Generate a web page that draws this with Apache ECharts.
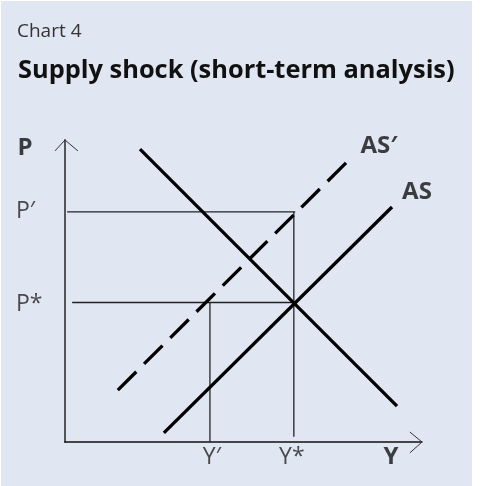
<!DOCTYPE html>
<html>
<head>
<meta charset="utf-8">
<script src="https://cdn.jsdelivr.net/npm/echarts@6/dist/echarts.min.js"></script>
<style>
  html, body { margin: 0; padding: 0; background: #ffffff; }
  #chart { width: 481px; height: 486px; }
</style>
</head>
<body>
<div id="chart"></div>
<script>
// curves in axis units (0..10 on both axes)
const adLine = [[2.10, 9.70], [9.30, 1.19]];
const asLine = [[2.77, 0.30], [9.16, 7.78]];
const asShiftedLine = [[1.48, 1.72], [8.04, 9.44]];
const curveNames = ["AD", "AS", "AS′"];

// equilibrium levels
const priceLevels = [7.62, 4.62];          // P′, P*
const priceNames = ["P′", "P*"];
const outputLevels = [4.06, 6.41];         // Y′, Y*
const outputNames = ["Y′", "Y*"];
const axisNames = ["P", "Y"];

// open arrowheads at the axis ends
const arrowHeads = [
  [[-0.28, 9.64], [0, 10], [0.36, 9.64]],
  [[9.66, 0.33], [10, 0], [9.66, -0.36]]
];

const FONT = "Open Sans";
const chart = echarts.init(document.getElementById("chart"), null, { renderer: "canvas" });

const ink = "#000000";
const guide = { color: "#222222", width: 1.3 };

function labelPoint(value, text, offset, style = {}) {
  return {
    value,
    label: {
      show: true,
      position: "inside",
      offset,
      formatter: text,
      color: "#222222",
      fontFamily: FONT,
      fontSize: 23,
      ...style
    }
  };
}

const bold = { fontWeight: "bold", fontSize: 24, color: "#111111" };

const option = {
  animation: false,
  backgroundColor: "#ffffff",
  graphic: [
    { type: "rect", shape: { x: 1, y: 1, width: 471, height: 485 }, style: { fill: "#e0e6f2" }, z: -10 },
    { type: "text", left: 17, top: 22, style: { text: "Chart 4", fontFamily: FONT, fontSize: 19, fill: "#333333" } },
    { type: "text", left: 18, top: 58, style: { text: "Supply shock (short-term analysis)", fontFamily: FONT, fontSize: 25.4, fontWeight: "bold", fill: "#111111" } }
  ],
  grid: { left: 65, right: 59, top: 140, bottom: 44 },
  xAxis: {
    type: "value", min: 0, max: 10,
    axisLine: { show: true, lineStyle: { color: "#111111", width: 1.5 } },
    axisTick: { show: false }, axisLabel: { show: false }, splitLine: { show: false }
  },
  yAxis: {
    type: "value", min: 0, max: 10,
    axisLine: { show: true, lineStyle: { color: "#555555", width: 2 } },
    axisTick: { show: false }, axisLabel: { show: false }, splitLine: { show: false }
  },
  series: [
    {
      type: "custom", silent: true, clip: false,
      data: arrowHeads.map((_, i) => i),
      renderItem: (params, api) => ({
        type: "polyline",
        shape: { points: arrowHeads[params.dataIndex].map(p => api.coord(p)) },
        style: { stroke: "#333333", lineWidth: 1, fill: null }
      })
    },
    // guide lines
    { type: "line", silent: true, symbol: "none", lineStyle: guide,
      data: [[0.06, priceLevels[0]], [outputLevels[1] + 0.04, priceLevels[0]]] },
    { type: "line", silent: true, symbol: "none", lineStyle: guide,
      data: [[0.2, priceLevels[1]], [outputLevels[1], priceLevels[1]]] },
    { type: "line", silent: true, symbol: "none", lineStyle: guide,
      data: [[outputLevels[1], priceLevels[0]], [outputLevels[1], 0.17]] },
    { type: "line", silent: true, symbol: "none", lineStyle: guide,
      data: [[outputLevels[0], priceLevels[1]], [outputLevels[0], 0]] },
    // curves
    { name: curveNames[0], type: "line", symbol: "none", lineStyle: { color: ink, width: 3.3, cap: "butt" }, data: adLine },
    { name: curveNames[1], type: "line", symbol: "none", lineStyle: { color: ink, width: 3.3, cap: "butt" }, data: asLine },
    { name: curveNames[2], type: "line", symbol: "none", lineStyle: { color: ink, width: 3.3, type: [26, 11], cap: "butt" }, data: asShiftedLine },
    // text labels anchored to the data
    {
      type: "scatter", silent: true, clip: false, symbolSize: 0, z: 5,
      data: [
        labelPoint([0, 10], axisNames[0], [-40, 8], bold),
        labelPoint([10, 0], axisNames[1], [-31, 15], bold),
        labelPoint(asShiftedLine[1], curveNames[2], [27, -11], bold),
        labelPoint(asLine[1], curveNames[1], [25, -15], bold),
        labelPoint([0, priceLevels[0]], priceNames[0], [-49, 0], { align: "left" }),
        labelPoint([0, priceLevels[1]], priceNames[1], [-49, 2], { align: "left" }),
        labelPoint([outputLevels[0], 0], outputNames[0], [2, 15]),
        labelPoint([outputLevels[1], 0], outputNames[1], [-2, 15])
      ]
    }
  ]
};

chart.setOption(option);
</script>
</body>
</html>
